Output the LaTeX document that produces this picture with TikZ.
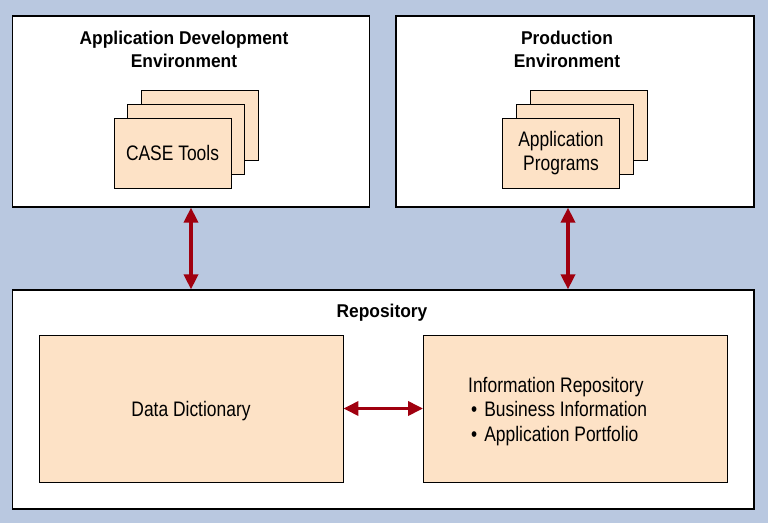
\documentclass[tikz,border=0pt]{standalone}
\usepackage{fontspec}
\setmainfont{Liberation Sans}[FakeStretch=0.83]
\newfontfamily\headfont{Liberation Sans}[FakeStretch=0.94]
\usetikzlibrary{positioning,calc,arrows,arrows.meta}

\definecolor{bgblue}{HTML}{B9C8E0}
\definecolor{peach}{HTML}{FDE2C6}
\definecolor{darkred}{HTML}{A0000F}

\begin{document}
\begin{tikzpicture}[x=1pt, y=-1pt]
	\fill [bgblue] (0, 0) rectangle (768, 523);
	\useasboundingbox (0, 0) rectangle (768, 523);
	\begin{scope}[xscale=1, yscale=1]
		\tikzstyle{every node}=[align=center, inner sep=1pt]
		\tikzstyle{envbox}=[draw, fill=white, line width=1.2pt]
		\tikzstyle{card}=[draw, fill=peach, line width=0.9pt, minimum width=117pt, minimum height=70pt]
		\tikzstyle{bigcard}=[draw, fill=peach, line width=0.9pt, minimum width=304pt, minimum height=147pt]
		\tikzstyle{title}=[font=\headfont\bfseries\fontsize{18.5}{23}\selectfont]
		\tikzstyle{label}=[font=\fontsize{21}{24.5}\selectfont]
		\tikzstyle{link}=[darkred, line width=3.5pt, {Triangle[length=15pt, width=14pt]}-{Triangle[length=15pt, width=14pt]}]

		\node (adenv) [envbox, minimum width=357pt, minimum height=191pt] at (191, 111.5) {};
		\node (prodenv) [envbox, minimum width=358pt, minimum height=191pt] at (575, 111.5) {};
		\node (repo) [envbox, minimum width=741.5pt, minimum height=219pt] at (383.25, 399.5) {};

		\node (adtitle) [title] at (184, 49)  {Application Development\\Environment};
		\node (prodtitle) [title] at (567, 49) {Production\\Environment};
		\node (repotitle) [title] at (382, 313) {Repository};

		\node (case3) [card] at (199.5, 125.5) {};
		\node (case2) [card] at (186, 139)     {};
		\node (case1) [card, label] at (172.5, 153) {CASE Tools};

		\node (prog3) [card] at (588.5, 125.5) {};
		\node (prog2) [card] at (574.5, 139)   {};
		\node (prog1) [card, label] at (561, 153) {Application\\Programs};

		\node (dd) [bigcard, label] at (191, 408.5) {};
		\node (ddtext) [label] at (191, 411) {Data Dictionary};
		\node (ir) [bigcard] at (575.5, 408.5) {};
		\node (irtext) [label, align=left, anchor=west] at (467, 411.5)
			{Information Repository\\
			 \hspace{3pt}\textbullet\hspace{7pt}Business Information\\
			 \hspace{3pt}\textbullet\hspace{7pt}Application Portfolio};

		\draw [link] (adenv.south) to (adenv.south |- repo.north);
		\draw [link] ([xshift=-7pt]prodenv.south) to ([xshift=-7pt]prodenv.south |- repo.north);
		\draw [link] (dd.east) to (ir.west);
	\end{scope}
\end{tikzpicture}
\end{document}
